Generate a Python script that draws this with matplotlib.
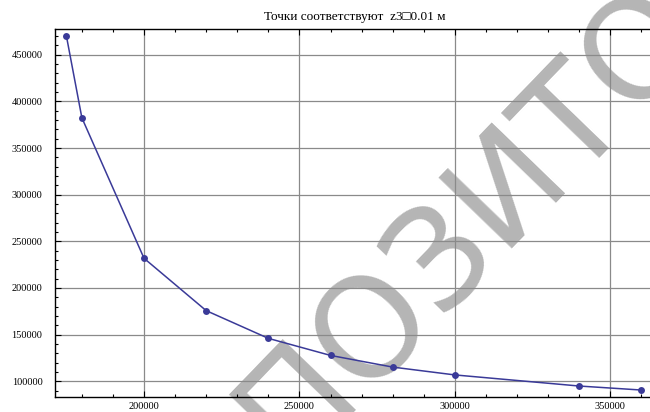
import numpy as np
import matplotlib
matplotlib.use("Agg")
import matplotlib.pyplot as plt
from matplotlib.ticker import MultipleLocator, FuncFormatter

# points for z3 = 0.01 m
x_vals = [175000, 180000, 200000, 220000, 240000, 260000, 280000, 300000, 340000, 360000]
y_vals = [470500, 382400, 231800, 175700, 146000, 127700, 115200, 106800, 94900, 90600]

x_ticks = [200000, 250000, 300000, 350000]
y_ticks = [100000, 150000, 200000, 250000, 300000, 350000, 400000, 450000]

title = "Точки соответствуют  z3\u25a10.01 м"
mark = "ПОЗИТО"

plt.rcParams['font.family'] = ['Liberation Serif', 'DejaVu Sans']

fig = plt.figure(figsize=(6.5, 4.12), dpi=100)
ax = fig.add_axes([0.0846, 0.0371, 0.9154, 0.8925])
ax.set_facecolor('none')

ax.plot(x_vals, y_vals, color='#3a3a98', lw=1.1, marker='o', ms=5.0,
        markeredgewidth=0, zorder=3, clip_on=False)

ax.set_xlim(171350, 362800)
ax.set_ylim(83440, 477600)

ax.set_xticks(x_ticks)
ax.set_yticks(y_ticks)
ax.xaxis.set_minor_locator(MultipleLocator(10000))
ax.yaxis.set_minor_locator(MultipleLocator(10000))
fmt = FuncFormatter(lambda v, p: f"{int(v)}")
ax.xaxis.set_major_formatter(fmt)
ax.yaxis.set_major_formatter(fmt)

ax.tick_params(which='both', direction='in', top=True, right=False,
               labelsize=7.5, color='black', width=0.8)
ax.tick_params(which='major', length=4)
ax.tick_params(which='minor', length=2.5)
ax.tick_params(axis='y', which='major', pad=9)
ax.tick_params(axis='x', which='major', pad=4)

ax.grid(True, which='major', color='#8a8a8a', lw=0.9)
for s in ['top', 'bottom', 'left']:
    ax.spines[s].set_linewidth(1.0)
ax.spines['right'].set_visible(False)

fig.text(0.545, 0.945, title, ha='center', va='bottom', fontsize=9.5)

# large diagonal watermark behind the data
ax.text(0.445, -0.13, mark, transform=fig.transFigure, fontsize=100,
        family='DejaVu Sans', color='#b5b5b5', rotation=46,
        rotation_mode='anchor', ha='left', va='baseline',
        zorder=1, clip_on=False)

fig.savefig('out.png', dpi=100)
